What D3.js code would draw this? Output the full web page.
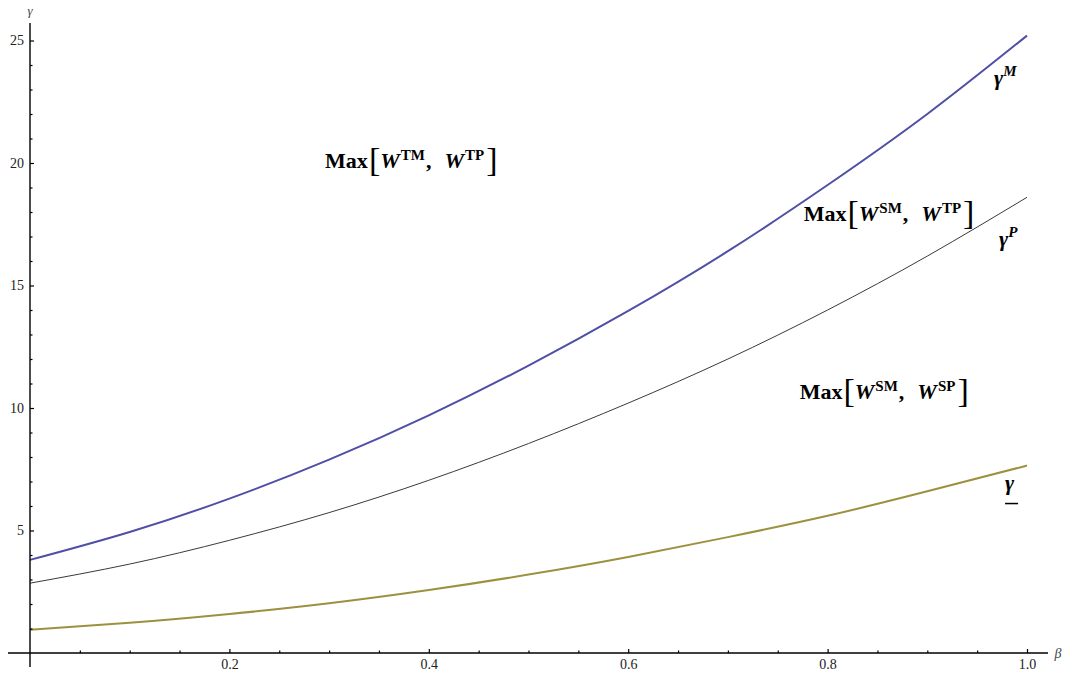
<!DOCTYPE html>
<html>
<head>
<meta charset="utf-8">
<script src="https://cdn.jsdelivr.net/npm/d3@7"></script>
<style>
  html, body { margin: 0; padding: 0; background: #fff; }
  svg { display: block; }
  text { font-family: "Liberation Serif", "Times New Roman", serif; }
</style>
</head>
<body>
<svg id="chart" width="1068" height="677"></svg>
<script>
// ---- data ----
const beta = [0, 0.1, 0.2, 0.3, 0.4, 0.5, 0.6, 0.7, 0.8, 0.9, 1.0];
const gammaM = [3.8, 4.94, 6.3, 7.89, 9.7, 11.73, 13.96, 16.4, 19.1, 22.0, 25.2];
const gammaP = [2.85, 3.63, 4.6, 5.73, 7.05, 8.55, 10.2, 12.0, 14.0, 16.2, 18.6];
const gammaLow = [0.95, 1.23, 1.59, 2.03, 2.57, 3.2, 3.92, 4.73, 5.6, 6.6, 7.65];
const xTickValues = [0.2, 0.4, 0.6, 0.8, 1.0];
const xTickLabels = ["0.2", "0.4", "0.6", "0.8", "1.0"];
const yTickValues = [5, 10, 15, 20, 25];
const yTickLabels = ["5", "10", "15", "20", "25"];

const svg = d3.select("#chart");
const x = d3.scaleLinear().domain([0, 1]).range([30, 1027]);
const y = d3.scaleLinear().domain([0, 25]).range([653, 40.5]);

// ---- curves ----
const line = d3.line().x(d => x(d[0])).y(d => y(d[1])).curve(d3.curveNatural);
const series = [
  { vals: gammaLow, color: "#9d9140", width: 2 },
  { vals: gammaP, color: "#3a3a3a", width: 1 },
  { vals: gammaM, color: "#4f4fa6", width: 2 }
];
series.forEach(s => {
  svg.append("path")
    .datum(beta.map((b, i) => [b, s.vals[i]]))
    .attr("d", line)
    .attr("fill", "none")
    .attr("stroke", s.color)
    .attr("stroke-width", s.width);
});

// ---- axes ----
const axisColor = "#000";
svg.append("line").attr("x1", x(0)).attr("x2", x(0)).attr("y1", 23).attr("y2", 667)
  .attr("stroke", axisColor).attr("stroke-width", 1.4);
svg.append("line").attr("x1", 8).attr("x2", 1048).attr("y1", y(0)).attr("y2", y(0))
  .attr("stroke", axisColor).attr("stroke-width", 1.4);

const yMinor = d3.range(1, 25).filter(v => v % 5 !== 0);
const xMinor = d3.range(1, 20).map(i => i * 0.05).filter((v, i) => (i + 1) % 4 !== 0);

svg.append("g").attr("transform", `translate(${x(0)},0)`)
  .call(d3.axisLeft(y).tickValues(yTickValues).tickFormat((d, i) => yTickLabels[i]).tickSize(-4).tickPadding(6));
svg.append("g").attr("transform", `translate(${x(0)},0)`)
  .call(d3.axisLeft(y).tickValues(yMinor).tickFormat("").tickSize(-2.5));
svg.append("g").attr("transform", `translate(0,${y(0)})`)
  .call(d3.axisBottom(x).tickValues(xTickValues).tickFormat((d, i) => xTickLabels[i]).tickSize(-4).tickPadding(6));
svg.append("g").attr("transform", `translate(0,${y(0)})`)
  .call(d3.axisBottom(x).tickValues(xMinor).tickFormat("").tickSize(-2.5));

svg.selectAll(".domain").remove();
svg.selectAll(".tick line").attr("stroke", axisColor).attr("stroke-width", 1.2);
svg.selectAll(".tick text").attr("font-family", "Liberation Serif").attr("font-size", 14).attr("fill", "#222");

// axis labels
svg.append("text").attr("x", x(0)).attr("y", 15).attr("text-anchor", "middle")
  .attr("font-style", "italic").attr("font-size", 13).attr("fill", "#444").text("γ");
svg.append("text").attr("x", 1058).attr("y", y(0) + 5).attr("text-anchor", "middle")
  .attr("font-style", "italic").attr("font-size", 14).attr("fill", "#444").text("β");

// ---- region annotations ----
function maxLabel(px, py, s1, s2) {
  const t = svg.append("text").attr("x", px).attr("y", py).attr("fill", "#000");
  t.append("tspan").attr("font-weight", "bold").attr("font-size", 22).text("Max");
  t.append("tspan").attr("font-size", 34).attr("dy", 3).attr("dx", 1).text("[");
  t.append("tspan").attr("font-weight", "bold").attr("font-style", "italic").attr("font-size", 22).attr("dy", -3).text("W");
  t.append("tspan").attr("font-weight", "bold").attr("font-size", 15).attr("dy", -8).attr("dx", 1).text(s1);
  t.append("tspan").attr("font-weight", "bold").attr("font-size", 22).attr("dy", 8).attr("dx", 1).text(",");
  t.append("tspan").attr("font-weight", "bold").attr("font-style", "italic").attr("font-size", 22).attr("dx", 13).text("W");
  t.append("tspan").attr("font-weight", "bold").attr("font-size", 15).attr("dy", -8).attr("dx", 1).text(s2);
  t.append("tspan").attr("font-size", 34).attr("dy", 11).attr("dx", 2).text("]");
}
maxLabel(x(0.296), y(19.8), "TM", "TP");
maxLabel(x(0.776), y(17.65), "SM", "TP");
maxLabel(x(0.772), y(10.35), "SM", "SP");

// ---- curve labels ----
function gammaLabel(px, py, sup) {
  const t = svg.append("text").attr("x", px).attr("y", py).attr("fill", "#000");
  t.append("tspan").attr("font-weight", "bold").attr("font-style", "italic").attr("font-size", 22).text("γ");
  t.append("tspan").attr("font-weight", "bold").attr("font-style", "italic").attr("font-size", 15).attr("dy", -9).text(sup);
}
gammaLabel(x(0.967), y(23.2), "M");
gammaLabel(x(0.972), y(16.6), "P");
svg.append("text").attr("x", x(0.978)).attr("y", y(6.65)).attr("fill", "#000")
  .attr("font-weight", "bold").attr("font-style", "italic").attr("font-size", 22).text("γ");
svg.append("line").attr("x1", x(0.978)).attr("x2", x(0.978) + 13).attr("y1", y(6.1)).attr("y2", y(6.1))
  .attr("stroke", "#000").attr("stroke-width", 1.5);
</script>
</body>
</html>
